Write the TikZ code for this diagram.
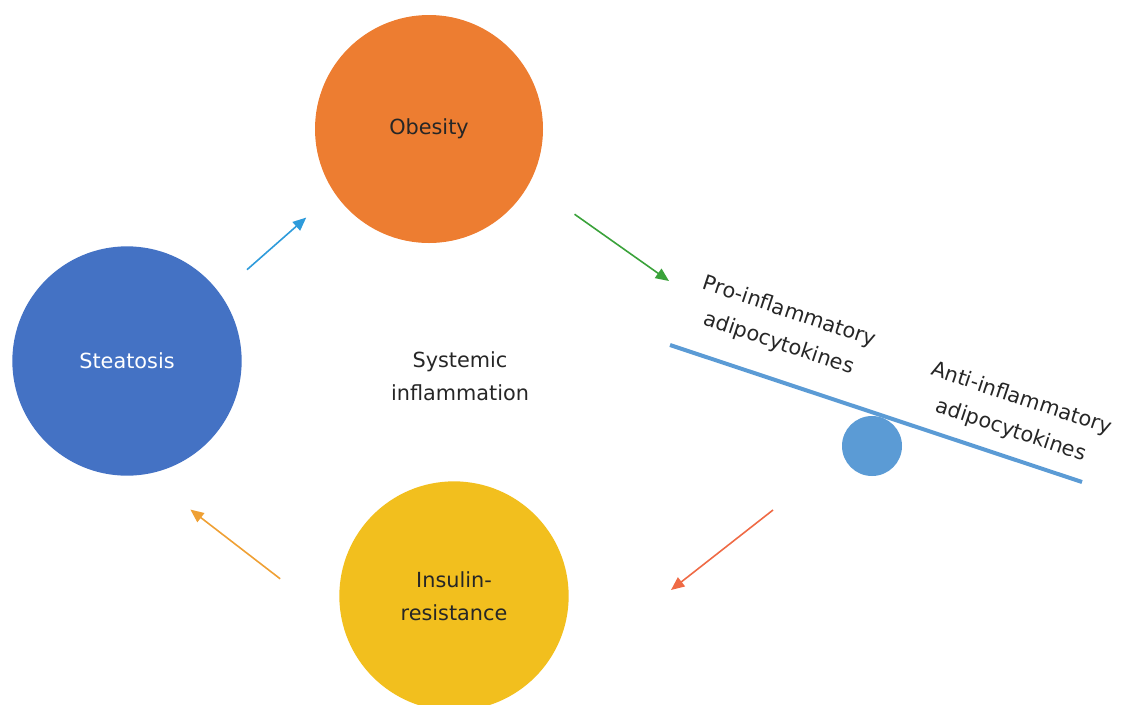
\documentclass[tikz,border=0pt]{standalone}
\usepackage{fontspec}
\setmainfont{DejaVu Sans}
\usepackage{tikz}
\usetikzlibrary{arrows.meta}

\definecolor{obesityorange}{HTML}{ED7D31}
\definecolor{steatosisblue}{HTML}{4472C4}
\definecolor{insulinyellow}{HTML}{F2BF1E}
\definecolor{beamblue}{HTML}{5B9BD5}
\definecolor{arrowblue}{HTML}{2E9BDB}
\definecolor{arrowgreen}{HTML}{3AA23A}
\definecolor{arrowred}{HTML}{EF6A45}
\definecolor{arroworange}{HTML}{EFA034}

\tikzset{
  bigcircle/.style={circle, inner sep=0pt, minimum size=172pt, align=center},
  label text/.style={font=\fontsize{15.6}{25}\selectfont, align=center, text=black!85},
  cyclearrow/.style={line width=1.2pt, -{Triangle[length=10pt,width=8.5pt]}}
}

\begin{document}
\begin{tikzpicture}[x=0.75pt, y=-0.75pt]
\useasboundingbox (0,0) rectangle (1121,704);

% the three circles of the cycle
\node [bigcircle, fill=obesityorange, minimum size=171pt, label text] (obesity) at (429,129) {Obesity};
\node [bigcircle, fill=steatosisblue, label text, text=white] (steatosis) at (127,361) {Steatosis};
\node [bigcircle, fill=insulinyellow, label text] (insulin) at (454,596) {Insulin-\\resistance};

\node [label text] (inflammation) at (460,376) {Systemic\\inflammation};

% the balance
\coordinate (beamleft) at (670,345);
\coordinate (beamright) at (1082,482);
\node [circle, fill=beamblue, inner sep=0pt, minimum size=45pt] (pivot) at (872,446) {};
\draw [beamblue, line width=3pt] (beamleft) -- (beamright);
\node [label text, rotate=-18.5] (pro) at (784,328) {Pro-inflammatory\\adipocytokines};
\node [label text, rotate=-18.5] (anti) at (1016,415) {Anti-inflammatory\\adipocytokines};

% arrows
\coordinate (greentip) at (669,281);
\coordinate (redtail) at (773,510);
\coordinate (redtip) at (671,590);

\draw [cyclearrow, arrowblue, shorten <=27pt, shorten >=28pt] (steatosis.36) -- (obesity.214);
\draw [cyclearrow, arrowgreen, shorten <=41pt] (obesity.-28.5) -- (greentip);
\draw [cyclearrow, arrowred] (redtail) -- (redtip);
\draw [cyclearrow, arroworange, shorten <=60pt, shorten >=43pt] (insulin.196) -- (steatosis.-81);

\end{tikzpicture}
\end{document}
